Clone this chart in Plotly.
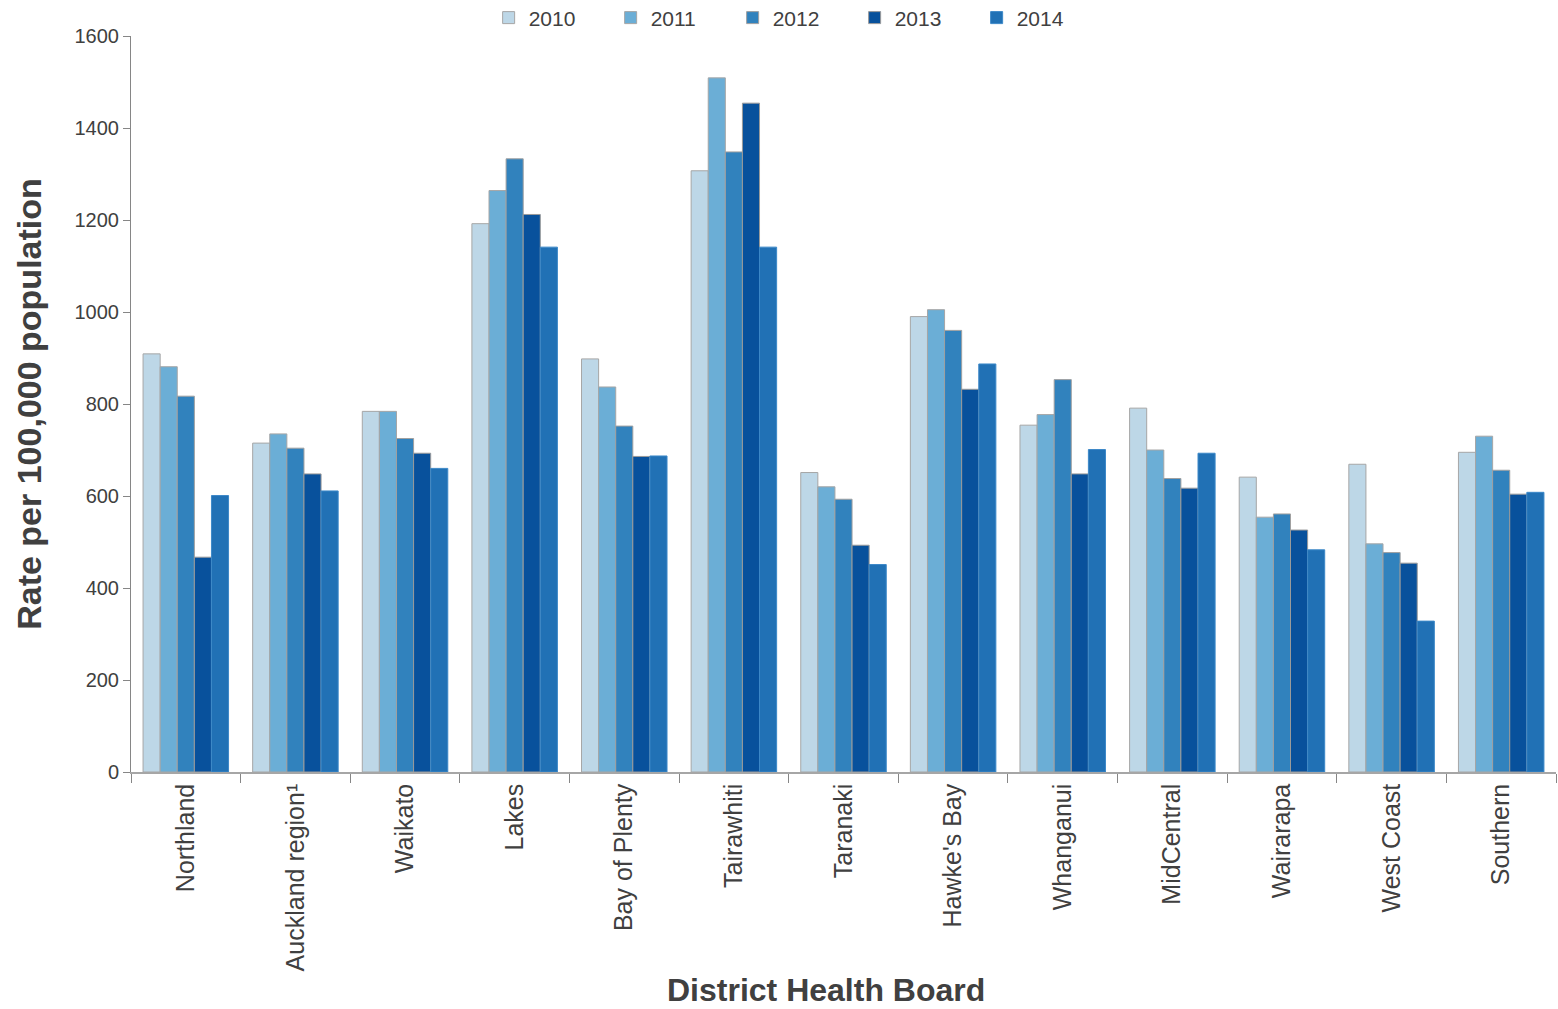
import plotly.graph_objects as go

categories = ["Northland", "Auckland region\u00b9", "Waikato", "Lakes", "Bay of Plenty",
              "Tairawhiti", "Taranaki", "Hawke's Bay", "Whanganui", "MidCentral",
              "Wairarapa", "West Coast", "Southern"]

years = ["2010", "2011", "2012", "2013", "2014"]

v2010 = [909, 715, 784, 1192, 898, 1307, 651, 990, 754, 791, 641, 669, 695]
v2011 = [881, 735, 784, 1264, 837, 1509, 620, 1005, 777, 700, 554, 496, 730]
v2012 = [817, 704, 725, 1333, 752, 1348, 593, 960, 853, 638, 561, 477, 656]
v2013 = [467, 648, 693, 1212, 686, 1454, 493, 832, 648, 617, 526, 454, 604]
v2014 = [601, 611, 660, 1141, 687, 1141, 451, 887, 701, 693, 483, 328, 608]

series = [v2010, v2011, v2012, v2013, v2014]
colors = ["#BDD7E7", "#6BAED6", "#3182BD", "#08519C", "#2171B5"]
outlines = ["#A6A6A6", "#A6A6A6", "#A0A0A0", "#9A9A9A", "#3C88C8"]

y_ticks = [0, 200, 400, 600, 800, 1000, 1200, 1400, 1600]

font_family = "Liberation Sans, Arial, sans-serif"
text_color = "#404040"
axis_color = "#868686"

fig = go.Figure()
for name, vals, c, oc in zip(years, series, colors, outlines):
    fig.add_trace(go.Bar(
        x=categories, y=vals, name=name,
        marker=dict(color=c, line=dict(color=oc, width=1)),
    ))

fig.update_layout(
    width=1558, height=1009,
    barmode="group", bargap=0.22, bargroupgap=0,
    plot_bgcolor="white", paper_bgcolor="white",
    margin=dict(l=131, r=2, t=36, b=237, autoexpand=False),
    font=dict(family=font_family, color=text_color),
    legend=dict(
        orientation="h", x=0.465, xanchor="center", y=1.0245, yanchor="middle",
        font=dict(size=21, color=text_color), itemwidth=30,
        entrywidth=77, entrywidthmode="pixels",
        traceorder="normal", itemclick=False,
    ),
    showlegend=True,
    annotations=[dict(
        text="<b>District Health Board</b>", xref="paper", yref="paper",
        x=0.488, y=-0.2962, xanchor="center", yanchor="middle", showarrow=False,
        font=dict(size=32, color=text_color, family=font_family),
    )],
)

fig.update_yaxes(
    range=[0, 1600], tickvals=y_ticks, ticktext=[str(t) for t in y_ticks],
    showgrid=False, zeroline=False,
    showline=True, linecolor=axis_color, linewidth=1,
    ticks="outside", ticklen=7, tickcolor=axis_color, tickwidth=1,
    tickfont=dict(size=20, color=text_color),
    title=dict(text="<b>Rate per 100,000 population</b>",
               font=dict(size=34, color=text_color), standoff=22),
    automargin=False,
)

fig.update_xaxes(
    showgrid=False, zeroline=False,
    showline=True, linecolor="#A6A6A6", linewidth=1.5,
    ticks="outside", ticklen=9, tickcolor=axis_color, tickwidth=1,
    tickson="boundaries",
    tickangle=-90,
    tickfont=dict(size=25, color=text_color),
    automargin=False,
)

fig.write_html(
    "out.html",
    config={"displayModeBar": False},
    post_script="document.body.style.margin='0';document.body.style.overflow='hidden';",
)
